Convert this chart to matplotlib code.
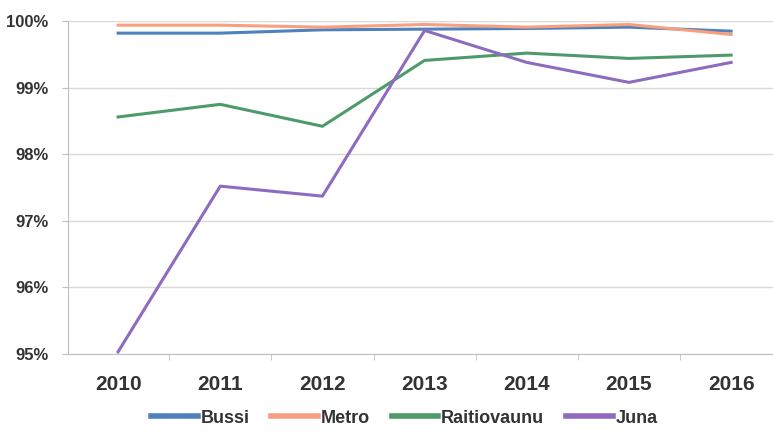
import matplotlib
matplotlib.use("Agg")
import matplotlib.pyplot as plt
from matplotlib.ticker import FuncFormatter, FixedLocator

years = [2010, 2011, 2012, 2013, 2014, 2015, 2016]
bussi = [99.82, 99.82, 99.87, 99.88, 99.89, 99.91, 99.85]
metro = [99.94, 99.94, 99.91, 99.95, 99.91, 99.95, 99.80]
raitiovaunu = [98.56, 98.75, 98.42, 99.41, 99.52, 99.44, 99.49]
juna = [95.03, 97.52, 97.37, 99.86, 99.38, 99.08, 99.38]

plt.rcParams['font.family'] = ['Liberation Sans', 'DejaVu Sans']

fig = plt.figure(figsize=(7.73, 4.32), dpi=100)
ax = fig.add_axes([0.088, 0.181, 0.912, 0.770])

ax.plot(years, bussi, color='#4f81bd', lw=2.2, label='Bussi', zorder=3)
ax.plot(years, metro, color='#f79f7f', lw=2.2, label='Metro', zorder=4)
ax.plot(years, raitiovaunu, color='#4e9a6a', lw=2.2, label='Raitiovaunu', zorder=3)
ax.plot(years, juna, color='#8e6bbf', lw=2.2, label='Juna', zorder=3)

ax.set_xlim(2009.51, 2016.41)
ax.set_ylim(95, 100)
ax.set_yticks([95, 96, 97, 98, 99, 100])
ax.yaxis.set_major_formatter(FuncFormatter(lambda v, p: '%d%%' % v))
ax.set_xticks(years)
ax.xaxis.set_minor_locator(FixedLocator([y + 0.5 for y in years[:-1]]))
ax.grid(axis='y', color='#d9d9d9', lw=1)
ax.set_axisbelow(True)

for s in ['top', 'right']:
    ax.spines[s].set_visible(False)
ax.spines['left'].set_color('#bfbfbf')
ax.spines['bottom'].set_color('#bfbfbf')

ax.tick_params(axis='y', length=4, color='#bfbfbf', labelsize=12, pad=10)
ax.tick_params(axis='x', which='major', length=0, labelsize=15, pad=15)
ax.tick_params(axis='x', which='minor', length=4, color='#bfbfbf')
for t in ax.get_xticklabels() + ax.get_yticklabels():
    t.set_fontweight('bold')
    t.set_color('#333333')

leg = fig.legend(loc='center', ncol=4, frameon=False, bbox_to_anchor=(0.523, 0.032),
                 handlelength=2.6, handletextpad=0.15, columnspacing=1.2,
                 borderpad=0.2, prop={'weight': 'bold', 'size': 13})
for line in leg.get_lines():
    line.set_linewidth(4)
for t in leg.get_texts():
    t.set_color('#333333')

fig.savefig('out.png', dpi=100)
